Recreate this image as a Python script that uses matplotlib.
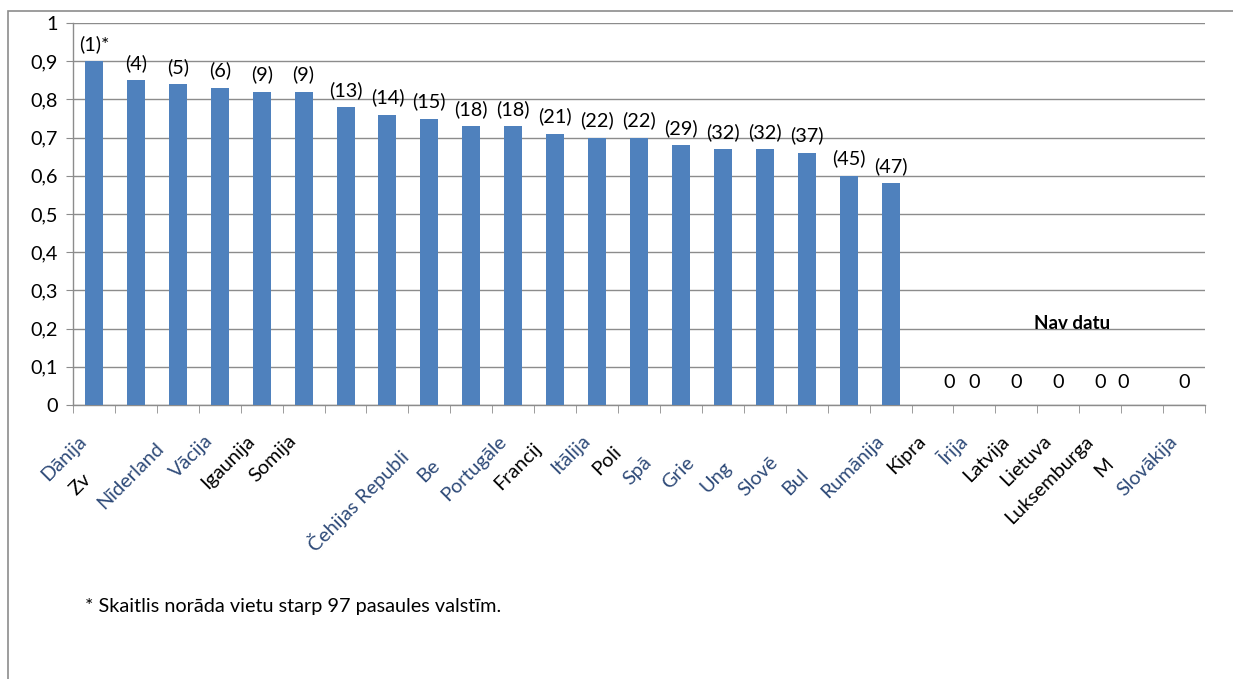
import matplotlib
matplotlib.use("Agg")
import matplotlib.pyplot as plt
from matplotlib.transforms import ScaledTranslation
from matplotlib.font_manager import FontProperties
from matplotlib.ticker import FuncFormatter, FixedLocator
from matplotlib.patches import Rectangle

# ---------------- data ----------------
countries_full = ["Dānija", "Zviedrija", "Nīderlande", "Vācija", "Igaunija", "Somija",
                  "Austrija", "Apvienotā Karaliste", "Čehijas Republika", "Beļģija",
                  "Portugāle", "Francija", "Itālija", "Polija", "Spānija", "Grieķija",
                  "Ungārija", "Slovēnija", "Bulgārija", "Rumānija", "Kipra", "Īrija",
                  "Latvija", "Lietuva", "Luksemburga", "Malta", "Slovākija"]
# label text as it is visible (clipped) in the chart
countries_visible = ["Dānija", "Zv", "Nīderland", "Vācija", "Igaunija", "Somija",
                     "", "", "Čehijas Republi", "Be",
                     "Portugāle", "Francij", "Itālija", "Poli", "Spā", "Grie",
                     "Ung", "Slovē", "Bul", "Rumānija", "Kipra", "Īrija",
                     "Latvija", "Lietuva", "Luksemburga", "M", "Slovākija"]
values = [0.90, 0.85, 0.84, 0.83, 0.82, 0.82, 0.78, 0.76, 0.75, 0.73, 0.73, 0.71,
          0.70, 0.70, 0.68, 0.67, 0.67, 0.66, 0.60, 0.58, 0, 0, 0, 0, 0, 0, 0]
ranks = [1, 4, 5, 6, 9, 9, 13, 14, 15, 18, 18, 21, 22, 22, 29, 32, 32, 37, 45, 47,
         None, None, None, None, None, None, None]
yticks = [0, 0.1, 0.2, 0.3, 0.4, 0.5, 0.6, 0.7, 0.8, 0.9, 1.0]
no_data_text = "Nav datu"
footnote = "* Skaitlis norāda vietu starp 97 pasaules valstīm."

# ---------------- style ----------------
FONT = "Lato"
FS = 14.3
BAR = "#4F81BD"
GRID = "#8C8C8C"
W, H, DPI = 12.33, 6.79, 100

plt.rcParams["font.family"] = [FONT, "DejaVu Sans"]

fig = plt.figure(figsize=(W, H), dpi=DPI)
fig.patch.set_facecolor("white")

# chart border (top and left visible)
fig.patches.append(Rectangle((8 / 1233, -0.2), 1.5, 1 - 11 / 679 + 0.2,
                             transform=fig.transFigure, fill=False,
                             edgecolor=GRID, linewidth=1.2))

ax = fig.add_axes([73 / 1233, 1 - 405 / 679, (1205 - 73) / 1233, (405 - 23) / 679])
n = len(values)
x = list(range(n))

ax.bar(x, values, width=0.43, color=BAR, zorder=3)

ax.set_xlim(-0.5, n - 0.5)
ax.set_ylim(0, 1)
ax.set_yticks(yticks)
ax.yaxis.set_major_formatter(FuncFormatter(lambda v, p: f"{v:g}".replace(".", ",")))
ax.grid(axis="y", color=GRID, linewidth=1, zorder=0)
ax.set_axisbelow(True)

for s in ["top", "right"]:
    ax.spines[s].set_visible(False)
for s in ["left", "bottom"]:
    ax.spines[s].set_color(GRID)
    ax.spines[s].set_linewidth(1)

ax.tick_params(axis="y", direction="out", length=5, color=GRID, labelsize=FS, pad=6)

# category boundaries as tick marks
ax.xaxis.set_minor_locator(FixedLocator([i - 0.5 for i in range(n + 1)]))
ax.tick_params(axis="x", which="minor", direction="out", length=6, color=GRID)
ax.tick_params(axis="x", which="major", length=0, pad=24)

ax.set_xticks(x)
ax.set_xticklabels(countries_visible, rotation=45, ha="right", va="center",
                   rotation_mode="anchor", fontsize=FS)

renderer = fig.canvas.get_renderer()
prop = FontProperties(family=[FONT, "DejaVu Sans"], size=FS)
for lbl, full, vis in zip(ax.get_xticklabels(), countries_full, countries_visible):
    wf = renderer.get_text_width_height_descent(full, prop, ismath=False)[0] if full else 0
    wv = renderer.get_text_width_height_descent(vis, prop, ismath=False)[0] if vis else 0
    d = (wf - wv) * 0.7071 / DPI
    lbl.set_transform(lbl.get_transform() +
                      ScaledTranslation(-0.10 - d, -d, fig.dpi_scale_trans))
    if any(ord(c) > 127 for c in full):
        lbl.set_color("#2E4A78")
    else:
        lbl.set_color("black")

# data labels
zero_dx = {20: 12, 25: -14}
for i, (v, r) in enumerate(zip(values, ranks)):
    if r is not None:
        txt = f"({r})" + ("*" if i == 0 else "")
        ax.annotate(txt, (i, v), xytext=(0, 6), textcoords="offset points",
                    ha="center", va="bottom", fontsize=FS)
    else:
        ax.annotate(f"{v:g}", (i, v), xytext=(zero_dx.get(i, 0), 16),
                    textcoords="offset points", ha="center", va="center", fontsize=FS)

ax.text(23.33, 0.2, no_data_text, ha="center", va="baseline",
        fontsize=FS - 0.8, fontweight="bold")

fig.text(85 / 1233, 1 - 612 / 679, footnote, ha="left", va="baseline", fontsize=FS)

fig.savefig("out.png", dpi=DPI)
